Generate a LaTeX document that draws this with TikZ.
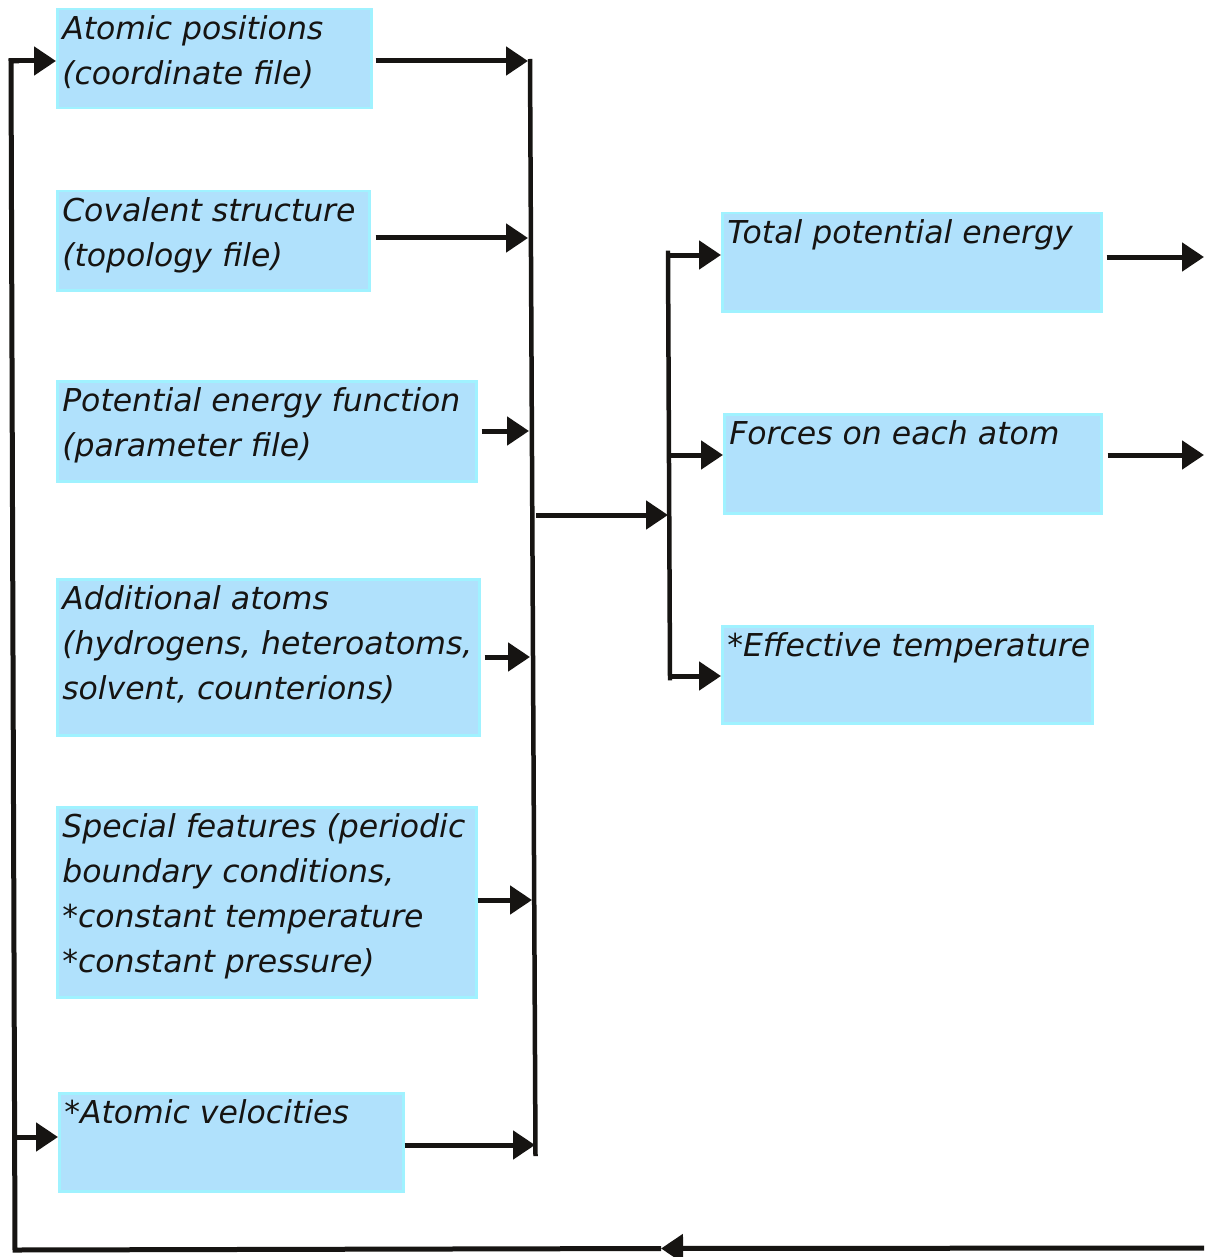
\documentclass[tikz,border=0pt]{standalone}
\usepackage{fontspec}
\setmainfont{DejaVu Sans}
\usetikzlibrary{arrows.meta,calc}
\definecolor{boxfill}{RGB}{176,225,252}
\definecolor{boxline}{RGB}{160,242,255}
\definecolor{ink}{RGB}{22,20,18}
\newcommand{\bt}[3]{\parbox[t][#2pt][t]{\dimexpr#1pt-10pt\relax}{\rule{0pt}{30pt}#3}}
\begin{document}
\begin{tikzpicture}[x=1pt,y=-1pt,
  box/.style={draw=boxline,fill=boxfill,line width=2.5pt,inner xsep=5pt,inner ysep=0pt,
    anchor=north west,font=\fontsize{31.5}{45}\selectfont\itshape,text=ink},
  arr/.style={draw=ink,line width=5pt,-{Triangle[length=22pt,width=28pt]}},
  bus/.style={draw=ink,line width=4.5pt}]
\useasboundingbox (0,0) rectangle (1204,1257);
\fill[white] (0,0) rectangle (1204,1257);
% boxes
\node[box] (b1) at (56,8) {\bt{314}{99}{\mbox{Atomic positions}\\\mbox{(coordinate file)}}};
\node[box] (b2) at (56,190) {\bt{312}{99}{\mbox{Covalent structure}\\\mbox{(topology file)}}};
\node[box] (b3) at (56,380) {\bt{419}{100}{\mbox{Potential energy function}\\\mbox{(parameter file)}}};
\node[box] (b4) at (56,578) {\bt{422}{156}{\mbox{Additional atoms}\\\mbox{(hydrogens, heteroatoms,}\\\mbox{solvent, counterions)}}};
\node[box] (b5) at (56,806) {\bt{419}{190}{\mbox{Special features (periodic}\\\mbox{boundary conditions,}\\\mbox{*constant temperature}\\\mbox{*constant pressure)}}};
\node[box] (b6) at (58,1092) {\bt{344}{98}{\mbox{*Atomic velocities}}};
\node[box] (b7) at (721,212) {\bt{379}{98}{\mbox{Total potential energy}}};
\node[box] (b8) at (723,413) {\bt{377}{99}{\mbox{Forces on each atom}}};
\node[box] (b9) at (721,625) {\bt{370}{97}{\mbox{*Effective temperature}}};
% coordinates
\coordinate (bus1top) at (530,59);
\coordinate (bus1bot) at (535.5,1156);
\coordinate (bus2top) at (668,253);
\coordinate (bus2bot) at (670,678);
\coordinate (out1) at (1204,257);
\coordinate (out2) at (1204,455);
\coordinate (fbstart) at (1204,1248);
\coordinate (fbmid) at (661,1248.5);
\coordinate (fbcorner) at (15,1250);
\coordinate (fbtop) at (11,61);
\coordinate (fbbranch) at (14.5,1137);
% buses
\draw[bus] (bus1top) -- (bus1bot);
\draw[bus,line join=miter] ($(bus2top)+(2,0)$) -- (bus2top) -- (bus2bot) -- ($(bus2bot)+(2,0)$);
% input arrows
\draw[arr] (b1.east |- 0,61) ++(3,0) -- (528,61);
\draw[arr] (b2.east |- 0,238) ++(5,0) -- (528,238);
\draw[arr] (b3.east |- 0,431) ++(4,0) -- (529,431);
\draw[arr] (b4.east |- 0,657) ++(4,0) -- (530,657);
\draw[arr] (b5.east |- 0,900) ++(0,0) -- (532,900);
\draw[arr] (b6.east |- 0,1145) -- (535,1145);
% central arrow
\draw[arr] (536,515) -- (668,515);
% output branches
\draw[arr] (667,255) -- (b7.west |- 0,255);
\draw[arr] (670,455) -- (b8.west |- 0,455);
\draw[arr] (670,676) -- (b9.west |- 0,676);
\draw[arr] (b7.east |- 0,257) ++(4,0) -- (out1);
\draw[arr] (b8.east |- 0,455) ++(5,0) -- (out2);
% feedback loop
\draw[arr] (fbstart) -- (fbmid);
\draw[draw=ink,line width=5pt,line join=miter] (fbmid) -- (fbcorner) -- (fbtop) -- ++(8,0);
\draw[arr] ($(fbtop)+(-2.5,0)$) -- (b1.west |- 0,61);
\draw[arr] (fbbranch) -- (b6.west |- 0,1137);
\end{tikzpicture}
\end{document}
